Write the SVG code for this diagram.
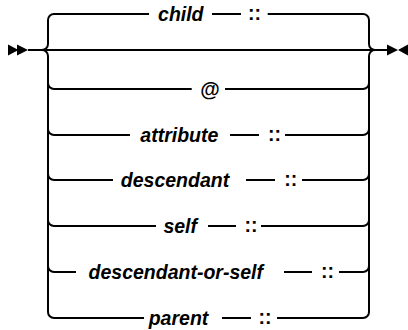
<svg xmlns="http://www.w3.org/2000/svg" width="408" height="330" viewBox="0 0 408 330">
<style>
.ln{fill:none;stroke:#000;stroke-width:2;stroke-linecap:butt}
.kw{font-family:"Liberation Sans",Arial,sans-serif;font-style:italic;font-weight:bold;font-size:19.5px;fill:#000;text-anchor:middle}
.op{font-family:"Liberation Sans",Arial,sans-serif;font-weight:bold;font-size:19.5px;fill:#000;text-anchor:middle}
.ar{fill:#000;stroke:none}
</style>
<rect width="408" height="330" fill="#fff"/>
<g id="connectors">
<path class="ln" d="M28,50 H387"/>
<path class="ln" d="M42,50 A6,6 0 0 0 48,44 V20 A6,6 0 0 1 54,14 H149"/>
<path class="ln" d="M42,50 A6,6 0 0 1 48,56 V312 A6,6 0 0 0 54,318 H144"/>
<path class="ln" d="M48,83 A6,6 0 0 0 54,89 H191.7"/>
<path class="ln" d="M48,129 A6,6 0 0 0 54,135 H130"/>
<path class="ln" d="M48,174 A6,6 0 0 0 54,180 H113"/>
<path class="ln" d="M48,220 A6,6 0 0 0 54,226 H156"/>
<path class="ln" d="M48,266 A6,6 0 0 0 54,272 H76"/>
<path class="ln" d="M267.7,14 H363 A6,6 0 0 1 369,20 V44 A6,6 0 0 0 375,50"/>
<path class="ln" d="M277,318 H363 A6,6 0 0 0 369,312 V56 A6,6 0 0 1 375,50"/>
<path class="ln" d="M225,89 H363 A6,6 0 0 0 369,83"/>
<path class="ln" d="M285,135 H363 A6,6 0 0 0 369,129"/>
<path class="ln" d="M302,180 H363 A6,6 0 0 0 369,174"/>
<path class="ln" d="M261,226 H363 A6,6 0 0 0 369,220"/>
<path class="ln" d="M339,272 H363 A6,6 0 0 0 369,266"/>
<path class="ln" d="M212,14 H241"/>
<path class="ln" d="M230,135 H259"/>
<path class="ln" d="M246,180 H275"/>
<path class="ln" d="M208,226 H236"/>
<path class="ln" d="M284,272 H312"/>
<path class="ln" d="M222,318 H251"/>
</g>
<g id="start">
<polygon class="ar" points="8,44.5 18.5,50 8,55.5"/>
<polygon class="ar" points="17,44.5 28,50 17,55.5"/>
</g>
<g id="end">
<polygon class="ar" points="387,44.5 398,50 387,55.5"/>
<polygon class="ar" points="408,44.5 398,50 408,55.5"/>
</g>
<g id="child"><text class="kw" x="180.8" y="20.5">child</text><text class="op" x="254.5" y="20">::</text></g>
<g id="at"><text class="op" x="210" y="95.5" style="font-size:20px">@</text></g>
<g id="attribute"><text class="kw" x="179.3" y="141.5">attribute</text><text class="op" x="274.5" y="141">::</text></g>
<g id="descendant"><text class="kw" x="175" y="186.5">descendant</text><text class="op" x="290.7" y="186">::</text></g>
<g id="self"><text class="kw" x="180.2" y="232.5">self</text><text class="op" x="251" y="232">::</text></g>
<g id="descendant-or-self"><text class="kw" x="175.8" y="278.5">descendant-or-self</text><text class="op" x="327.5" y="278">::</text></g>
<g id="parent"><text class="kw" x="178.5" y="324.5">parent</text><text class="op" x="265" y="324">::</text></g>
</svg>
